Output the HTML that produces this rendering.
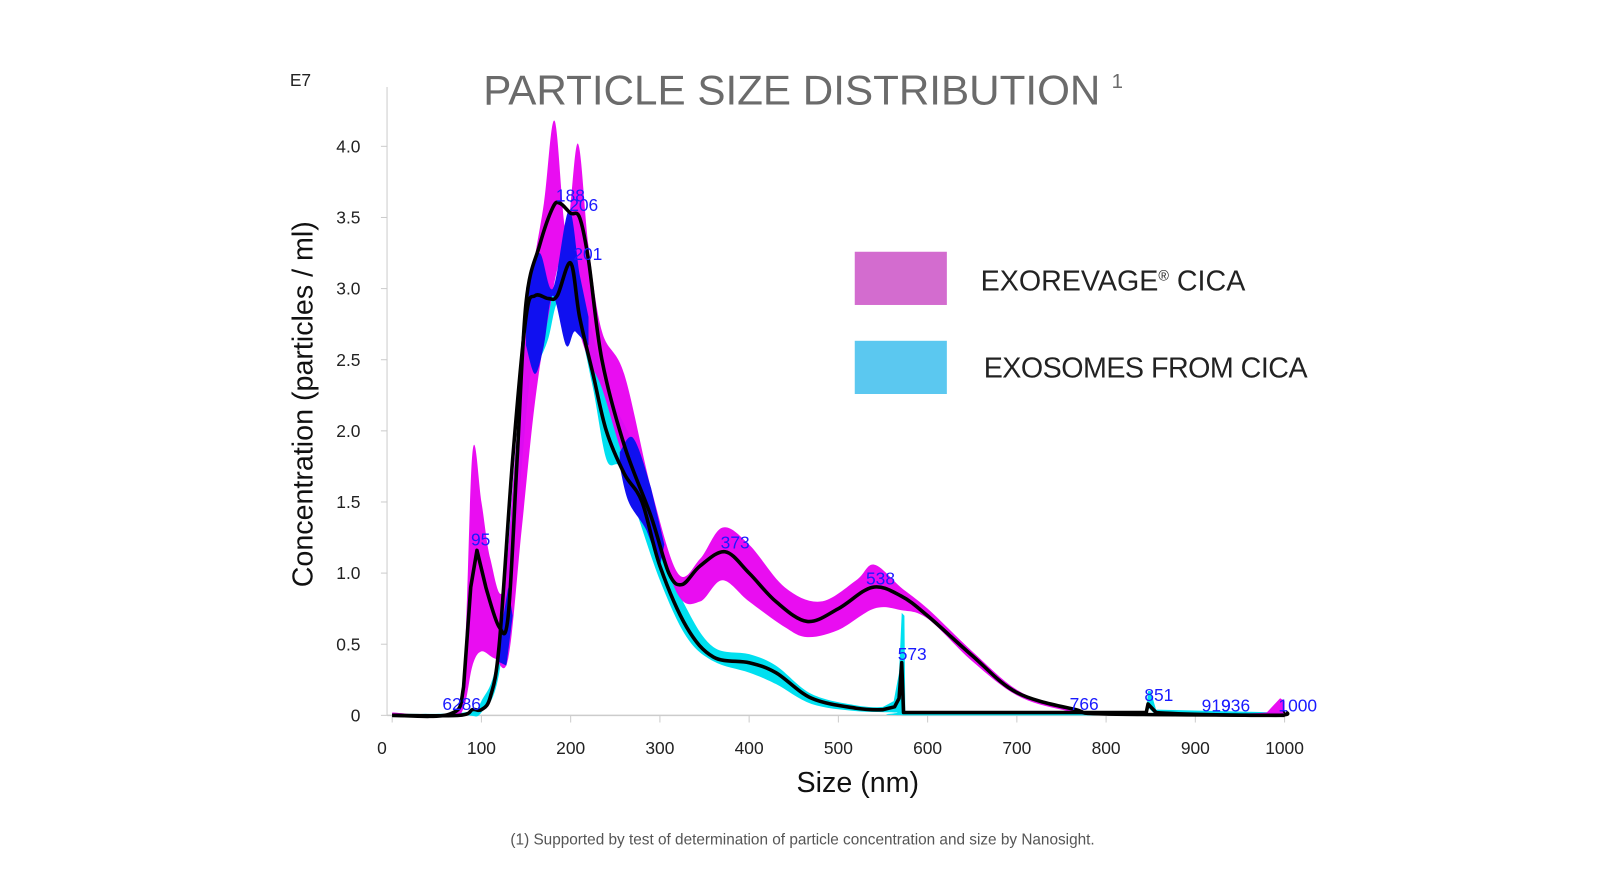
<!DOCTYPE html>
<html><head><meta charset="utf-8"><style>
body{margin:0;background:#fff;width:1600px;height:875px;overflow:hidden;font-family:"Liberation Sans",sans-serif}
</style></head><body>
<svg id="s" width="1600" height="875" viewBox="0 0 1563 855" xmlns="http://www.w3.org/2000/svg" font-family="Liberation Sans, sans-serif">
<text x="472" y="102" font-size="41" fill="#6b6b6b" textLength="603" lengthAdjust="spacingAndGlyphs">PARTICLE SIZE DISTRIBUTION</text>
<text x="1086" y="86" font-size="20" fill="#6b6b6b">1</text>
<text x="283" y="84" font-size="17" fill="#222">E7</text>
<line x1="378" y1="85" x2="378" y2="699" stroke="#ddd" stroke-width="1.5"/>
<line x1="378" y1="699" x2="1256" y2="699" stroke="#ccc" stroke-width="1.5"/>
<g id="ticks"></g>
<g id="bands"></g>
<g id="lines"></g>
<g fill="#1a1aff" font-size="17">
<text x="543" y="197">188</text><text x="556" y="206">206</text><text x="560" y="254">201</text>
<text x="460" y="533">95</text><text x="704" y="536">373</text><text x="846" y="571">538</text>
<text x="877" y="645">573</text><text x="432" y="694">6286</text><text x="1045" y="694">766</text>
<text x="1118" y="685">851</text><text x="1174" y="695">919</text><text x="1193" y="695">936</text>
<text x="1249" y="695">1000</text>
</g>
<rect x="835" y="246" width="90" height="52" fill="#d36ccf"/>
<rect x="835" y="333" width="90" height="52" fill="#5bc8f0"/>
<text x="958" y="284" font-size="28" fill="#222">EXOREVAGE<tspan font-size="14" dy="-10">®</tspan><tspan dy="10"> CICA</tspan></text>
<text x="961" y="369" font-size="28" fill="#222" letter-spacing="-0.5">EXOSOMES FROM CICA</text>
<text transform="translate(305,395) rotate(-90)" text-anchor="middle" font-size="28" fill="#111">Concentration (particles / ml)</text>
<text x="838" y="774" text-anchor="middle" font-size="28" fill="#111">Size (nm)</text>
<text x="784" y="825" text-anchor="middle" font-size="15" fill="#555">(1) Supported by test of determination of particle concentration and size by Nanosight.</text>
</svg>
<script>
var X=v=>383+0.872*v, Y=v=>699-139*v;
var NS="http://www.w3.org/2000/svg";
function el(p,t,a){var e=document.createElementNS(NS,t);for(var k in a)e.setAttribute(k,a[k]);document.getElementById(p).appendChild(e);return e;}
for(var i=0;i<=10;i++){var x=X(i*100);el("ticks","line",{x1:x,y1:699,x2:x,y2:706,stroke:"#ccc"});
var t=el("ticks","text",{x:x-(i==0?10:0),y:737,"text-anchor":"middle","font-size":17,fill:"#222"});t.textContent=i*100;}
for(var j=0;j<=8;j++){var y=Y(j*0.5);el("ticks","line",{x1:372,y1:y,x2:378,y2:y,stroke:"#ccc"});
var t=el("ticks","text",{x:352,y:y+6,"text-anchor":"end","font-size":17,fill:"#222"});t.textContent=j==0?"0":(j*0.5).toFixed(1);}
function path(pts,close){var P=pts.map(p=>[X(p[0]),Y(p[1])]);var d="M"+P[0][0]+","+P[0][1];
for(var i=0;i<P.length-1;i++){var p0=P[i-1]||P[i],p1=P[i],p2=P[i+1],p3=P[i+2]||p2;
if(Math.abs(pts[i+1][0]-pts[i][0])<8||(P[i-1]&&Math.abs(pts[i][0]-pts[i-1][0])<8)||(P[i+2]&&Math.abs(pts[i+2][0]-pts[i+1][0])<8)){d+=" L"+p2[0]+","+p2[1];continue;}
var k=6;
d+=" C"+(p1[0]+(p2[0]-p0[0])/k)+","+(p1[1]+(p2[1]-p0[1])/k)+" "+(p2[0]-(p3[0]-p1[0])/k)+","+(p2[1]-(p3[1]-p1[1])/k)+" "+p2[0]+","+p2[1];}
return d+(close?"Z":"");}
var mag=[[0,0.02],[65,0.02],[80,0.3],[90,1.85],[100,1.5],[110,1.1],[125,0.9],[140,2.0],[155,3.0],[170,3.6],[182,4.18],[195,3.4],[208,4.02],[220,3.3],[235,2.7],[260,2.4],[290,1.6],[320,1.0],[345,1.1],[370,1.32],[400,1.2],[440,0.9],[480,0.8],[520,0.95],[540,1.06],[570,0.9],[600,0.75],[650,0.45],[700,0.18],[750,0.06],[800,0.02],[980,0.02],[995,0.12],[1000,0.1],
[1000,0],[800,0],[750,0.04],[700,0.14],[650,0.38],[600,0.68],[570,0.74],[540,0.75],[500,0.6],[465,0.55],[440,0.62],[400,0.8],[370,0.95],[345,0.8],[320,0.85],[290,1.4],[260,1.8],[235,2.3],[220,2.5],[205,2.8],[190,3.2],[175,2.8],[160,2.2],[145,1.3],[130,0.4],[115,0.4],[100,0.45],[90,0.35],[80,0.05],[65,0],[0,0]];
var cy=[[0,0.01],[80,0.02],[100,0.1],[120,0.5],[140,2.0],[155,3.0],[165,3.25],[180,3.0],[195,3.3],[205,3.0],[220,2.8],[240,2.3],[270,1.9],[300,1.2],[330,0.75],[360,0.48],[400,0.43],[430,0.35],[470,0.15],[520,0.07],[550,0.06],[562,0.1],[568,0.3],[571,0.72],[574,0.7],[575,0.02],[845,0.02],[847,0.17],[850,0.17],[856,0.04],[1000,0.02],
[1000,0],[856,0],[848,0.05],[845,0],[575,0],[565,0.02],[520,0.03],[470,0.08],[430,0.22],[400,0.3],[360,0.38],[330,0.55],[300,0.95],[270,1.5],[255,1.75],[240,1.8],[225,2.3],[210,2.7],[195,2.75],[185,2.9],[175,2.65],[165,2.5],[155,2.4],[140,1.4],[120,0.3],[100,0.02],[80,0],[0,0]];
var b1=[[150,3.0],[165,3.25],[180,3.0],[198,3.55],[210,3.1],[220,2.8],[220,2.6],[205,2.7],[195,2.6],[180,2.95],[170,2.6],[160,2.4],[150,2.6]];
var b2=[[255,1.85],[270,1.95],[290,1.6],[305,1.2],[300,1.05],[285,1.3],[265,1.5],[255,1.75]];
var b3=[[118,0.45],[130,0.9],[135,0.7],[128,0.35],[118,0.38]];
el("bands","path",{d:path(cy,1),fill:"#00e0f0"});
el("bands","path",{d:path(mag,1),fill:"#e800f0",opacity:0.95});
el("bands","path",{d:path(b1,1),fill:"#1010f0"});
el("bands","path",{d:path(b2,1),fill:"#1010f0"});
el("bands","path",{d:path(b3,1),fill:"#1010f0"});
var m=[[0,0],[65,0.01],[80,0.2],[88,0.9],[95,1.16],[105,0.9],[120,0.62],[130,0.7],[140,1.8],[150,2.9],[165,3.3],[180,3.57],[188,3.6],[200,3.53],[210,3.5],[220,3.2],[235,2.5],[260,1.9],[290,1.4],[310,1.0],[325,0.92],[345,1.05],[373,1.15],[400,1.0],[430,0.8],[465,0.66],[500,0.75],[538,0.9],[570,0.84],[600,0.7],[650,0.42],[700,0.16],[766,0.04],[800,0.01],[1000,0]];
var c=[[0,0],[75,0],[90,0.04],[100,0.04],[110,0.13],[120,0.5],[135,1.8],[150,2.8],[160,2.95],[175,2.93],[185,2.95],[200,3.18],[210,2.8],[225,2.4],[240,2.0],[260,1.7],[280,1.5],[300,1.05],[330,0.62],[360,0.41],[400,0.37],[430,0.3],[470,0.12],[520,0.05],[550,0.04],[563,0.06],[568,0.12],[571,0.37],[573,0.02],[845,0.02],[847,0.08],[856,0.02],[990,0],[1000,0.03]];
el("lines","path",{d:path(m),fill:"none",stroke:"#000","stroke-width":3.5,"stroke-linejoin":"round"});
el("lines","path",{d:path(c),fill:"none",stroke:"#000","stroke-width":3.5,"stroke-linejoin":"round"});
</script>
</body></html>
